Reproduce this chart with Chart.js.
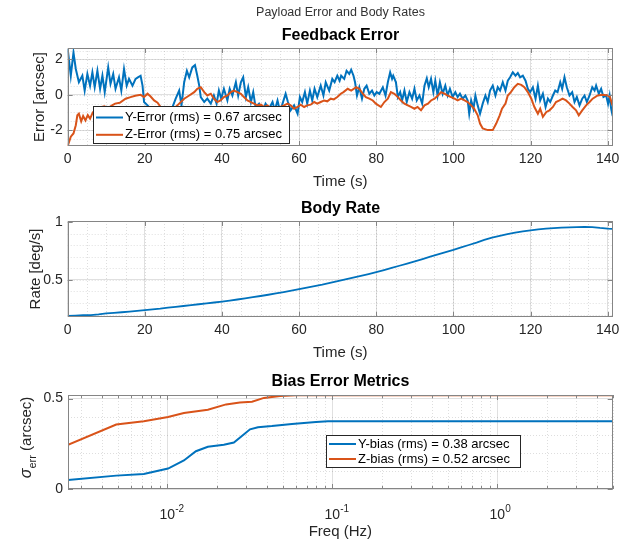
<!DOCTYPE html>
<html>
<head>
<meta charset="utf-8">
<title>Payload Error and Body Rates</title>
<script src="https://cdn.jsdelivr.net/npm/chart.js@4.4.1/dist/chart.umd.min.js"></script>
<style>
  body { margin: 0; background: #fff; font-family: "Liberation Sans", Arial, sans-serif; }
  #wrap { position: relative; width: 623px; height: 542px; overflow: hidden; }
  canvas { position: absolute; left: 0; }
  .ttl { position: absolute; left: 68px; width: 545px; text-align: center; white-space: nowrap; color: #000; }
</style>
</head>
<body>
<div id="wrap">
  <canvas id="errChart" width="623" height="195" style="top:0"></canvas>
  <canvas id="rateChart" width="623" height="170" style="top:195px"></canvas>
  <canvas id="biasChart" width="623" height="177" style="top:365px"></canvas>
  <div class="ttl" style="top:6px;font-size:12.5px;line-height:12.5px;color:#333">Payload Error and Body Rates</div>
  <div class="ttl" style="top:27px;font-size:16px;line-height:16px;font-weight:bold">Feedback Error</div>
  <div class="ttl" style="top:200px;font-size:16px;line-height:16px;font-weight:bold">Body Rate</div>
  <div class="ttl" style="top:373px;font-size:16px;line-height:16px;font-weight:bold">Bias Error Metrics</div>
</div>
<script>
// ---- data ----
// feedback error, Y axis (s, arcsec)
const yErrTime = [0,0.8,1.5,2.1,2.9,3.8,4.4,5.1,5.8,6.4,7.0,7.7,8.4,9.0,9.6,10.5,11.1,11.8,12.4,13.3,13.9,14.6,15.3,15.9,16.8,17.6,18.2,18.9,19.4,19.8,20.7,21.5,23,24,25,26,27,28,28.9,29.5,30.2,30.9,31.5,32.3,33.0,33.6,34.1,34.5,35.4,36.2,37.1,37.9,38.6,39.2,39.8,40.5,41.4,42.0,42.7,43.6,44.2,44.9,45.5,46.2,46.8,47.5,48.1,48.7,49.6,50.5,51.3,52.2,53.1,53.7,54.4,55.1,55.7,56.5,57.1,57.8,58.7,59.6,60.2,60.8,61.5,62.1,62.8,63.4,64.0,64.7,65.6,66.3,66.9,67.8,68.6,69.2,69.9,70.5,70.9,71.7,72.3,73.0,73.5,74.1,74.5,75.0,75.6,76.3,76.9,77.5,78.2,78.9,79.5,80.1,80.8,81.7,82.4,83.0,83.6,84.1,84.4,85.1,85.6,86.2,86.7,87.3,87.9,88.6,89.3,89.9,90.5,91.2,91.9,92.5,93.1,93.6,94.2,94.8,95.3,95.9,96.5,97.2,97.9,98.5,99.1,99.8,100.5,101.1,101.7,102.4,103.1,103.7,104.1,104.6,105.2,105.7,106.3,106.9,107.6,108.3,108.9,109.5,110.2,110.9,111.5,112.1,112.8,113.5,114.1,114.7,115.4,116.1,116.7,117.3,118.0,118.7,119.3,119.9,120.6,121.3,121.9,122.5,123.2,123.9,124.5,125.1,125.8,126.4,127.0,127.7,128.2,128.8,129.4,130.1,130.8,131.4,132.0,132.7,133.4,134.0,134.6,135.3,136.0,136.6,137.0,137.7,138.3,138.9,139.6,140.1,140.5,140.9,141.3];
const yErrVal = [2.6,1.08,2.39,1.46,0.71,1.08,0.24,1.18,0.52,1.27,0.43,1.36,0.34,1.08,0.15,1.55,0.62,1.18,0.34,0.99,0.24,1.46,0.52,0.9,0.52,0.9,0.99,1.08,0.52,-0.41,-0.6,-0.8,-0.9,-0.7,-1.0,-0.75,-0.8,-0.22,0.24,-0.6,0.71,1.36,0.99,1.55,1.68,1.08,0.52,-0.13,-0.41,-0.22,-0.5,-0.04,-0.5,0.24,-0.22,0.34,-0.32,0.34,-0.04,0.71,-0.04,0.71,0.99,-0.13,0.43,-0.41,0.15,-0.69,-0.5,-0.97,-0.5,-0.79,-0.41,-0.88,-0.32,-0.97,-0.5,0.06,-0.41,-0.88,-0.6,-1.07,-0.13,-0.41,0.15,-0.5,0.24,-0.32,0.34,-0.13,0.52,-0.04,0.71,0.24,0.9,0.71,1.08,0.8,1.08,0.9,1.36,1.18,1.42,1.08,0.71,-0.04,0.43,-0.22,0.34,0.52,0.06,0.24,-0.04,0.15,0.06,0.43,-0.04,0.71,1.27,0.9,1.08,0.71,-0.13,0.15,-0.32,0.24,-0.41,0.15,-0.22,0.34,-0.32,-0.04,-0.5,0.52,0.93,0.43,0.9,0.15,0.8,-0.04,0.71,0.06,0.52,-0.04,0.34,-0.13,0.15,-0.13,0.06,-0.22,-0.04,-0.32,-1.07,-0.32,-0.79,-0.04,-0.6,-1.07,-0.5,-0.04,-0.41,0.24,0.52,-0.04,0.43,0.24,0.71,0.24,0.8,0.99,1.27,1.08,1.23,0.99,1.08,0.8,0.34,0.15,0.43,-0.22,0.52,-0.32,0.06,-0.69,-0.22,-0.41,-0.04,0.24,0.15,0.71,0.34,0.99,0.43,-0.04,0.15,-0.41,-0.13,-0.6,-0.22,-0.04,-0.41,-0.04,0.43,0.24,0.52,0.06,0.34,-0.13,-0.04,-0.5,-0.04,-0.79,-1.2];

// feedback error, Z axis (s, arcsec)
const zErrTime = [0,0.8,1.5,2.1,2.5,2.9,3.5,4.0,4.6,5.2,5.8,6.5,7.5,8.5,9.5,10.5,11.5,12.3,13.5,15.0,16.3,17.5,18.9,19.8,20.7,21.5,22.4,23.3,24.1,25,26,27,28,28.9,30.2,31.5,32.8,33.6,34.5,35.4,36.2,37.1,37.9,38.8,39.6,40.5,41.4,42.3,43.1,44.0,44.9,45.7,46.6,47.5,48.3,49.2,50.1,50.9,51.8,52.6,53.5,54.4,55.2,56.1,57.0,57.8,58.7,59.6,60.4,61.3,62.1,63.0,63.9,64.7,65.6,66.5,67.3,68.2,69.0,69.9,70.8,71.5,72.6,73.5,74.8,75.6,76.5,77.3,78.2,79.1,79.9,81.2,82.1,83.0,83.8,84.7,85.6,86.4,87.3,88.2,89.0,89.9,90.7,91.6,92.5,93.4,94.2,95.1,96.0,96.8,97.7,98.5,99.4,100.3,101.1,102.0,102.9,103.7,104.6,105.4,106.3,106.9,107.6,108.9,110.2,111.1,112.0,112.6,113.5,114.1,114.9,115.8,116.7,117.6,118.4,119.3,120.2,121.0,121.9,122.5,123.2,124.1,124.9,125.8,126.6,127.5,128.3,129.2,130.1,130.9,131.8,132.5,133.4,134.4,135.3,136.1,137.4,138.7,140.0,140.6,141.1,141.5];
const zErrVal = [-2.9,-2.37,-2.19,-1.72,-1.16,-1.07,-1.5,-1.2,-1.45,-1.15,-1.35,-1.0,-0.75,-0.7,-0.65,-0.75,-0.6,-0.5,-0.45,-0.22,-0.13,-0.05,0.0,-0.13,0.06,-0.1,-0.32,-0.45,-0.69,-0.85,-0.9,-0.8,-0.69,-0.5,-0.22,-0.04,0.15,0.34,0.43,0.15,-0.04,0.06,-0.22,-0.41,-0.32,-0.13,-0.04,0.15,0.24,0.15,0.06,-0.13,-0.32,-0.41,-0.5,-0.6,-0.56,-0.69,-0.6,-0.75,-0.69,-0.79,-0.69,-0.6,-0.5,-0.6,-0.79,-0.69,-0.56,-0.69,-0.6,-0.56,-0.41,-0.5,-0.41,-0.32,-0.37,-0.22,-0.26,-0.13,0.06,0.15,0.34,0.24,0.43,0.34,0.06,-0.13,-0.22,-0.32,-0.5,-0.69,-0.41,-0.22,0.15,0.06,-0.13,-0.32,-0.5,-0.6,-0.69,-0.79,-0.69,-0.88,-0.6,-0.5,-0.32,-0.22,-0.04,0.15,0.06,-0.04,-0.13,-0.22,-0.32,-0.22,-0.32,-0.41,-0.6,-0.79,-1.16,-1.63,-1.91,-2.0,-2.0,-1.63,-1.16,-0.79,-0.5,-0.04,0.15,0.43,0.62,0.56,0.43,0.15,-0.22,-0.69,-1.07,-0.79,-1.25,-0.97,-0.88,-0.69,-0.41,-0.32,-0.22,-0.32,-0.5,-0.69,-0.88,-1.16,-0.88,-0.6,-0.41,-0.22,-0.04,0.0,-0.04,-0.13,-0.5,-0.69];

// body rate (s, deg/s)
const rateTime = [0,2,4,6,8,10,12,14,16,18,20,22,24,26,28,30,32,34,36,38,40,42,44,46,48,50,52,54,56,58,60,62,64,66,68,70,72,74,76,78,80,82,84,86,88,90,92,94,96,98,100,102,104,106,108,110,112,114,116,118,120,122,124,126,128,130,132,134,136,138,140,141.3];
const rateVal = [0.190,0.192,0.195,0.197,0.203,0.211,0.216,0.221,0.227,0.233,0.240,0.246,0.252,0.260,0.268,0.275,0.283,0.290,0.297,0.305,0.313,0.322,0.331,0.341,0.351,0.361,0.372,0.384,0.395,0.407,0.420,0.433,0.446,0.459,0.474,0.489,0.504,0.519,0.534,0.550,0.567,0.585,0.603,0.622,0.641,0.660,0.680,0.700,0.720,0.740,0.759,0.781,0.801,0.822,0.845,0.865,0.880,0.895,0.908,0.919,0.928,0.936,0.942,0.947,0.950,0.953,0.955,0.957,0.956,0.948,0.942,0.940];

// bias error metrics (Hz, arcsec)
const yBiasFreq = [0.0025,0.0049,0.0072,0.0101,0.0126,0.0149,0.0176,0.022,0.0253,0.0283,0.0317,0.0354,0.043,0.0569,0.0796,0.094,5];
const yBiasVal  = [0.05,0.074,0.083,0.113,0.158,0.209,0.234,0.245,0.257,0.293,0.33,0.342,0.348,0.36,0.371,0.375,0.375];
const zBiasFreq = [0.0025,0.0049,0.0072,0.0101,0.0126,0.0176,0.0227,0.0275,0.0326,0.0385,0.0482,0.0602,5];
const zBiasVal  = [0.245,0.357,0.375,0.398,0.42,0.438,0.468,0.479,0.483,0.504,0.515,0.518,0.518];

const errLabels  = ['Y-Error (rms) = 0.67 arcsec', 'Z-Error (rms) = 0.75 arcsec'];
const biasLabels = ['Y-bias (rms) = 0.38 arcsec', 'Z-bias (rms) = 0.52 arcsec'];

// ---- styling ----
const FONT = '"Liberation Sans", Arial, sans-serif';
const INK = '#262626';
const BLUE = '#0072BD';
const ORANGE = '#D95319';
const GRID = 'rgba(0,0,0,0.12)';
const MINOR = 'rgba(0,0,0,0.13)';
const BOX = '#858585';

function pairs(xs, ys) { return xs.map((x, i) => ({ x: x, y: ys[i] })); }
function steps(a, b, s) { const out = []; for (let v = a; v <= b + 1e-9; v += s) out.push(+v.toFixed(6)); return out; }
function fixX(h) { return s => { s.height = h; s.paddingLeft = 0; s.paddingRight = 0; }; }
function fixY(w) { return s => { s.width = w; s.paddingTop = 0; s.paddingBottom = 0; }; }
const plainNum = v => String(+Number(v).toFixed(3));

// MATLAB-like axes: dotted minor grid, box, inward ticks, legend box
const matlabAxes = {
  id: 'matlabAxes',
  beforeDatasetsDraw(chart, args, o) {
    const { ctx, chartArea: a, scales: { x, y } } = chart;
    ctx.save();
    ctx.lineWidth = 1;
    ctx.strokeStyle = GRID;
    (o.xMajor || []).forEach(v => {
      const px = Math.round(x.getPixelForValue(v)) + 0.5;
      ctx.beginPath(); ctx.moveTo(px, a.top); ctx.lineTo(px, a.bottom); ctx.stroke();
    });
    ctx.strokeStyle = MINOR;
    ctx.setLineDash([1, 2]);
    (o.xMinor || []).forEach(v => {
      const px = Math.round(x.getPixelForValue(v)) + 0.5;
      ctx.beginPath(); ctx.moveTo(px, a.top); ctx.lineTo(px, a.bottom); ctx.stroke();
    });
    (o.yMinor || []).forEach(v => {
      const py = Math.round(y.getPixelForValue(v)) + 0.5;
      ctx.beginPath(); ctx.moveTo(a.left, py); ctx.lineTo(a.right, py); ctx.stroke();
    });
    ctx.restore();
  },
  afterDatasetsDraw(chart, args, o) {
    const { ctx, chartArea: a, scales: { x, y } } = chart;
    ctx.save();
    ctx.strokeStyle = BOX;
    ctx.lineWidth = 1;
    ctx.strokeRect(Math.round(a.left) + 0.5, Math.round(a.top) + 0.5, Math.round(a.width) - 1, Math.round(a.height) - 1);
    const tick = (vals, len, horiz) => vals.forEach(v => {
      ctx.beginPath();
      if (horiz) {
        const px = Math.round(x.getPixelForValue(v)) + 0.5;
        ctx.moveTo(px, a.bottom); ctx.lineTo(px, a.bottom - len);
        ctx.moveTo(px, a.top); ctx.lineTo(px, a.top + len);
      } else {
        const py = Math.round(y.getPixelForValue(v)) + 0.5;
        ctx.moveTo(a.left, py); ctx.lineTo(a.left + len, py);
        ctx.moveTo(a.right, py); ctx.lineTo(a.right - len, py);
      }
      ctx.stroke();
    });
    tick(o.xTicks || [], 5, true);
    tick(o.xMinorTicks || [], 3, true);
    tick(o.yTicks || [], 5, false);

    const lg = o.legend;
    if (lg) {
      ctx.fillStyle = '#fff';
      ctx.fillRect(lg.left, lg.top, lg.width, lg.height);
      ctx.strokeStyle = INK;
      ctx.strokeRect(lg.left + 0.5, lg.top + 0.5, lg.width - 1, lg.height - 1);
      ctx.font = '13px ' + FONT;
      ctx.textBaseline = 'middle';
      ctx.textAlign = 'left';
      chart.data.datasets.forEach((ds, i) => {
        const yy = lg.top + lg.rowTop + i * lg.rowGap;
        ctx.strokeStyle = ds.borderColor;
        ctx.lineWidth = 2;
        ctx.beginPath(); ctx.moveTo(lg.left + 3, yy); ctx.lineTo(lg.left + 30, yy); ctx.stroke();
        ctx.fillStyle = '#000';
        ctx.fillText(ds.label, lg.left + 32, yy);
      });
    }
    ctx.restore();
  },
  afterDraw(chart, args, o) {
    const { ctx, scales: { x } } = chart;
    ctx.save();
    ctx.fillStyle = INK;
    // power-of-ten labels for the log axis
    (o.powLabels || []).forEach(p => {
      const px = x.getPixelForValue(Math.pow(10, p));
      ctx.font = '14px ' + FONT;
      ctx.textAlign = 'center';
      ctx.textBaseline = 'alphabetic';
      const w = ctx.measureText('10').width;
      ctx.fillText('10', px, o.powBase);
      ctx.font = '10px ' + FONT;
      ctx.textAlign = 'left';
      ctx.fillText(String(p), px + w / 2, o.powBase - 7);
    });
    // sigma_err (arcsec) y title with subscript
    const st = o.sigmaTitle;
    if (st) {
      ctx.translate(st.x, st.y);
      ctx.rotate(-Math.PI / 2);
      ctx.textAlign = 'left';
      ctx.textBaseline = 'alphabetic';
      const parts = [['\u03C3', 'italic 16px ' + FONT, 0], ['err', '11px ' + FONT, 5], [' (arcsec)', '15px ' + FONT, 0]];
      let total = 0;
      parts.forEach(p => { ctx.font = p[1]; total += ctx.measureText(p[0]).width; });
      let cx = -total / 2;
      parts.forEach(p => { ctx.font = p[1]; ctx.fillText(p[0], cx, p[2]); cx += ctx.measureText(p[0]).width; });
    }
    ctx.restore();
  }
};

const tickFont = { size: 14, family: FONT };
const titleFont = { size: 15, family: FONT };

function baseOptions(padTop) {
  return {
    responsive: false,
    animation: false,
    events: [],
    layout: { autoPadding: false, padding: { top: padTop, right: 10.3, left: 0, bottom: 0 } },
    elements: { point: { radius: 0 }, line: { tension: 0 } },
    plugins: { legend: { display: false }, tooltip: { enabled: false }, title: { display: false } }
  };
}

// ---- Feedback Error ----
const o1 = baseOptions(48);
o1.scales = {
  x: {
    type: 'linear', min: 0, max: 141.3, afterFit: fixX(49),
    ticks: { stepSize: 20, includeBounds: false, padding: 5, color: INK, font: tickFont, maxRotation: 0, callback: plainNum },
    grid: { color: GRID, drawTicks: false }, border: { display: false },
    title: { display: true, text: 'Time (s)', color: INK, font: titleFont, padding: { top: 0, bottom: 4 } }
  },
  y: {
    min: -2.9, max: 2.65, afterFit: fixY(67.7),
    ticks: { stepSize: 2, includeBounds: false, padding: 5, color: INK, font: tickFont, callback: plainNum },
    grid: { color: GRID, drawTicks: false }, border: { display: false },
    title: { display: true, text: 'Error [arcsec]', color: INK, font: titleFont, padding: { top: 31, bottom: 0 } }
  }
};
o1.plugins.matlabAxes = {
  xMinor: steps(5, 140, 5), yMinor: steps(-2.5, 2.5, 0.5),
  xTicks: steps(0, 140, 20), yTicks: [-2, 0, 2],
  legend: { left: 93, top: 106, width: 197, height: 38, rowTop: 11.5, rowGap: 17.3 }
};
new Chart(document.getElementById('errChart'), {
  type: 'line',
  data: { datasets: [
    { label: errLabels[0], data: pairs(yErrTime, yErrVal), borderColor: BLUE, borderWidth: 2, order: 2 },
    { label: errLabels[1], data: pairs(zErrTime, zErrVal), borderColor: ORANGE, borderWidth: 2, order: 1 }
  ] },
  options: o1,
  plugins: [matlabAxes]
});

// ---- Body Rate ----
const o2 = baseOptions(26);
o2.scales = {
  x: {
    type: 'linear', min: 0, max: 141.3, afterFit: fixX(48),
    ticks: { stepSize: 20, includeBounds: false, padding: 5, color: INK, font: tickFont, maxRotation: 0, callback: plainNum },
    grid: { color: GRID, drawTicks: false }, border: { display: false },
    title: { display: true, text: 'Time (s)', color: INK, font: titleFont, padding: { top: 0, bottom: 3 } }
  },
  y: {
    min: 0.18, max: 1.008, afterFit: fixY(67.7),
    ticks: { stepSize: 0.5, includeBounds: false, padding: 5, color: INK, font: tickFont, callback: plainNum },
    grid: { color: GRID, drawTicks: false }, border: { display: false },
    title: { display: true, text: 'Rate [deg/s]', color: INK, font: titleFont, padding: { top: 27, bottom: 0 } }
  }
};
o2.plugins.matlabAxes = {
  xMinor: steps(5, 140, 5), yMinor: steps(0.2, 0.9, 0.1),
  xTicks: steps(0, 140, 20), yTicks: [0.5, 1]
};
new Chart(document.getElementById('rateChart'), {
  type: 'line',
  data: { datasets: [
    { label: 'Body rate', data: pairs(rateTime, rateVal), borderColor: BLUE, borderWidth: 1.8 }
  ] },
  options: o2,
  plugins: [matlabAxes]
});

// ---- Bias Error Metrics ----
const logMinor = [];
[0.001, 0.01, 0.1, 1].forEach(d => { for (let k = 2; k <= 9; k++) { const v = +(k * d).toPrecision(3); if (v >= 0.0025 && v <= 5) logMinor.push(v); } });
const o3 = baseOptions(30);
o3.scales = {
  x: {
    type: 'logarithmic', min: 0.0025, max: 5, afterFit: fixX(53),
    ticks: { display: false },
    grid: { display: false }, border: { display: false },
    title: { display: true, text: 'Freq (Hz)', color: INK, font: titleFont, padding: { top: 0, bottom: 1.5 } }
  },
  y: {
    min: 0, max: 0.52, afterFit: fixY(68),
    ticks: { stepSize: 0.5, includeBounds: false, padding: 5, color: INK, font: tickFont, callback: plainNum },
    grid: { color: GRID, drawTicks: false }, border: { display: false },
    title: { display: false }
  }
};
o3.plugins.matlabAxes = {
  xMajor: [0.01, 0.1, 1], xMinor: logMinor, yMinor: steps(0.1, 0.4, 0.1),
  xTicks: [0.01, 0.1, 1], xMinorTicks: logMinor, yTicks: [0, 0.5],
  powLabels: [-2, -1, 0], powBase: 154,
  sigmaTitle: { x: 31, y: 72.5 },
  legend: { left: 326, top: 70, width: 195, height: 33, rowTop: 9, rowGap: 15 }
};
new Chart(document.getElementById('biasChart'), {
  type: 'line',
  data: { datasets: [
    { label: biasLabels[0], data: pairs(yBiasFreq, yBiasVal), borderColor: BLUE, borderWidth: 2, order: 2 },
    { label: biasLabels[1], data: pairs(zBiasFreq, zBiasVal), borderColor: ORANGE, borderWidth: 2, order: 1 }
  ] },
  options: o3,
  plugins: [matlabAxes]
});
</script>
</body>
</html>
